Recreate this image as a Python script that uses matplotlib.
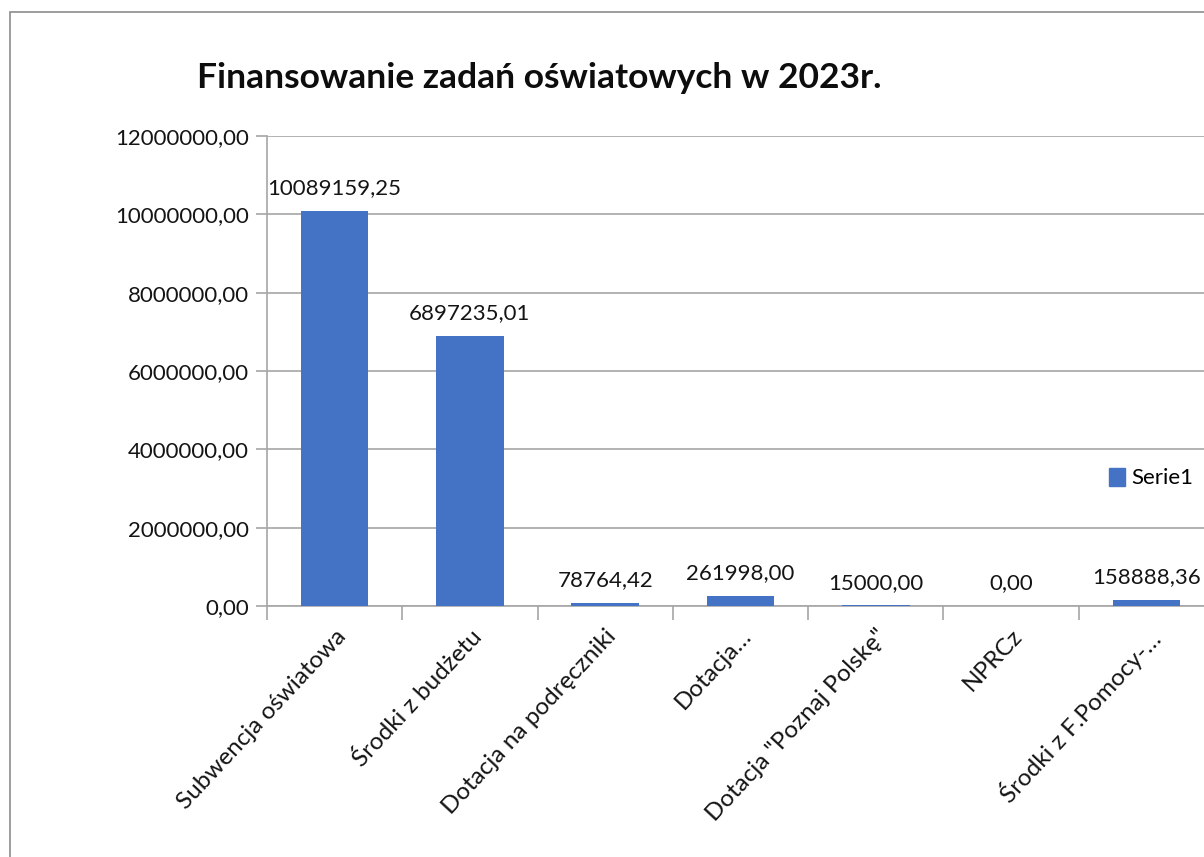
import matplotlib
matplotlib.use('Agg')
import matplotlib.pyplot as plt
from matplotlib.patches import Rectangle, Patch

plt.rcParams['font.family'] = ['Lato', 'DejaVu Sans']

categories = ['Subwencja oświatowa', 'Środki z budżetu', 'Dotacja na podręczniki',
              'Dotacja…', 'Dotacja "Poznaj Polskę"', 'NPRCz', 'Środki z F.Pomocy-…']
values = [10089159.25, 6897235.01, 78764.42, 261998.00, 15000.00, 0.00, 158888.36]
yticks = [0, 2000000, 4000000, 6000000, 8000000, 10000000, 12000000]
title = 'Finansowanie zadań oświatowych w 2023r.'
series_name = 'Serie1'

W, H = 1204, 857
fig = plt.figure(figsize=(W / 100, H / 100), dpi=100)

# outer chart border (cropped on the right/bottom)
fig.patches.append(Rectangle((10 / W, -0.1), 1.2, 1 - 12 / H + 0.1, transform=fig.transFigure,
                             fill=False, edgecolor='#8c8c8c', linewidth=1.2))

ax = fig.add_axes([267 / W, (H - 606) / H, 947 / W, 470 / H])
x = range(len(categories))
bars = ax.bar(x, values, width=0.5, color='#4472C4', zorder=3)

ax.set_xlim(-0.5, len(categories) - 0.5)
ax.set_ylim(0, 12000000)
ax.set_yticks(yticks)
ax.set_yticklabels(['%d,00' % v for v in yticks], fontsize=16, color='#141414')
ax.yaxis.grid(True, color='#a6a6a6', linewidth=1.2, zorder=0)
ax.tick_params(axis='y', length=8, color='#a6a6a6', width=1.2, pad=5)

ax.set_xticks([i - 0.5 for i in x], minor=False)
ax.set_xticklabels([])
ax.set_xticks(list(x), minor=True)
ax.set_xticklabels(categories, minor=True, rotation=47, ha='right', rotation_mode='anchor',
                   fontsize=17.5, color='#141414')
ax.tick_params(axis='x', which='major', length=10, color='#a6a6a6', width=1.2)
ax.tick_params(axis='x', which='minor', length=0, pad=14)

for s in ['top', 'right']:
    ax.spines[s].set_visible(False)
for s in ['left', 'bottom']:
    ax.spines[s].set_color('#a6a6a6')
    ax.spines[s].set_linewidth(1.2)

for b, v in zip(bars, values):
    lbl = ('%.2f' % v).replace('.', ',')
    ax.annotate(lbl, (b.get_x() + b.get_width() / 2, v), xytext=(0, 9),
                textcoords='offset points', ha='center', va='bottom',
                fontsize=16, color='#141414')

fig.text(197 / W, 1 - 78 / H, title, fontsize=25.5, fontweight='bold', va='center', ha='left',
         color='#0d0d0d')

fig.legend(handles=[Patch(color='#4472C4', label=series_name)], loc='center left',
           bbox_to_anchor=(1098 / W, 1 - 478 / H), frameon=False, fontsize=16,
           handlelength=0.7, handleheight=0.9, handletextpad=0.3, borderpad=0)

fig.savefig('out.png', dpi=100)
